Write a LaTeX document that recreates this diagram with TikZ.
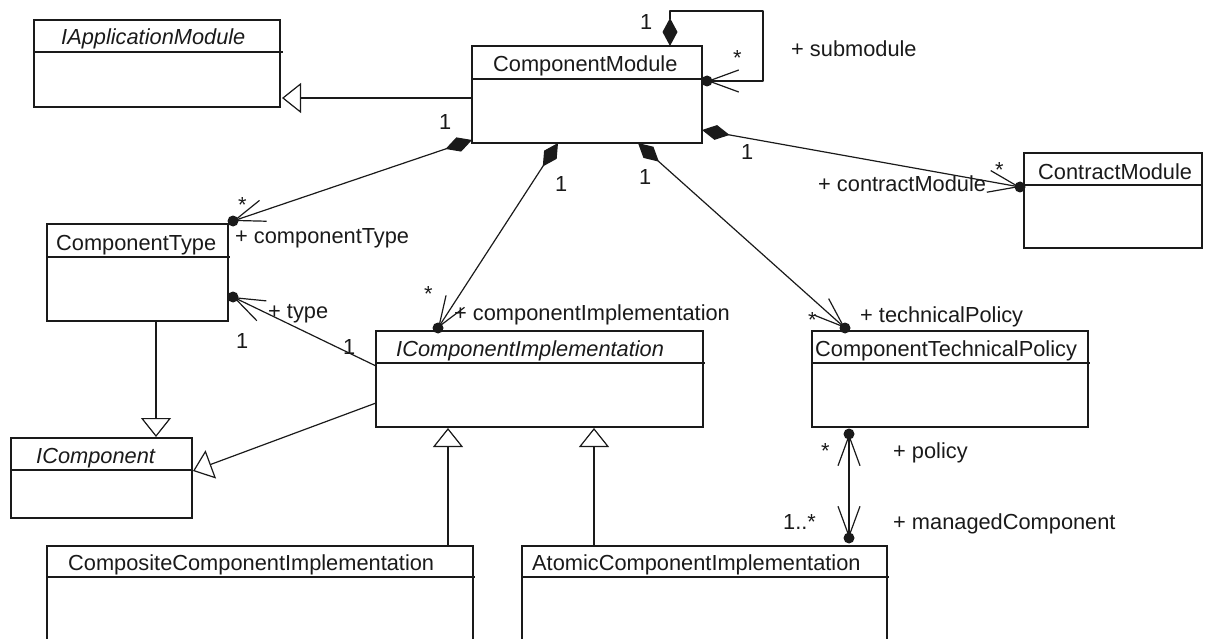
\documentclass[tikz,border=0pt]{standalone}
\usepackage{fontspec}
\setmainfont{Liberation Sans}
\usetikzlibrary{arrows.meta,calc}
\newcommand\umlfont{\fontsize{21.8}{25}\selectfont}
\definecolor{ink}{HTML}{1A1A1A}
\begin{document}
\begin{tikzpicture}[x=1pt,y=-1pt,font=\umlfont,
  cls/.style={draw=ink, line width=1.3pt, anchor=north west, inner sep=0pt, outer sep=0pt},
  ttl/.style={anchor=base west, inner sep=0pt, text=ink},
  lbl/.style={anchor=base west, inner sep=0pt, text=ink},
  divl/.style={draw=ink, line width=1.3pt},
  conn/.style={draw=ink, line width=1.2pt, line join=round},
  own/.style={conn, {Diamond[length=28pt,width=15pt]}-{Straight Barb[length=30pt,width=22pt]}},
  assoc/.style={conn, -{Straight Barb[length=30pt,width=22pt]}},
  biassoc/.style={conn, {Straight Barb[length=30pt,width=22pt]}-{Straight Barb[length=30pt,width=22pt]}},
  gen/.style={conn, -{Triangle[open,length=19pt,width=30pt,fill=white]}},
  enddot/.style={circle, fill=ink, minimum size=11pt, inner sep=0pt, outer sep=0pt}
]
\useasboundingbox (0,0) rectangle (1212,639);
\clip (0,0) rectangle (1212,639);

% classes
\node[cls, minimum width=246pt, minimum height=87pt] (iam) at (34,20) {};
\draw[divl] ($(iam.north west)+(0,32)$) -- ++(249,0);
\node[ttl] (iamt) at (61,45) {\itshape IApplicationModule};

\node[cls, minimum width=230pt, minimum height=97pt] (cm) at (472,46) {};
\draw[divl] ($(cm.north west)+(0,33)$) -- ++(230,0);
\node[ttl] (cmt) at (493,72) {ComponentModule};

\node[cls, minimum width=181pt, minimum height=97pt] (ct) at (47,224) {};
\draw[divl] ($(ct.north west)+(0,33)$) -- ++(183,0);
\node[ttl] (ctt) at (56,250) {ComponentType};

\node[cls, minimum width=178pt, minimum height=95pt] (contract) at (1024,153) {};
\draw[divl] ($(contract.north west)+(0,32)$) -- ++(178,0);
\node[ttl] (contractt) at (1038,179) {ContractModule};

\node[cls, minimum width=327pt, minimum height=96pt] (ici) at (376,331) {};
\draw[divl] ($(ici.north west)+(0,32)$) -- ++(329,0);
\node[ttl] (icit) at (396,356) {\itshape IComponentImplementation};

\node[cls, minimum width=276pt, minimum height=96pt] (ctp) at (812,331) {};
\draw[divl] ($(ctp.north west)+(0,32)$) -- ++(278,0);
\node[ttl] (ctpt) at (815,356) {ComponentTechnicalPolicy};

\node[cls, minimum width=181pt, minimum height=80pt] (ic) at (11,438) {};
\draw[divl] ($(ic.north west)+(0,32)$) -- ++(182,0);
\node[ttl] (ict) at (36,463) {\itshape IComponent};

\node[cls, minimum width=426pt, minimum height=130pt] (comp) at (47,546) {};
\draw[divl] ($(comp.north west)+(0,31)$) -- ++(428,0);
\node[ttl] (compt) at (68,570) {CompositeComponentImplementation};

\node[cls, minimum width=365pt, minimum height=130pt] (atomic) at (522,546) {};
\draw[divl] ($(atomic.north west)+(0,31)$) -- ++(367,0);
\node[ttl] (atomict) at (532,570) {AtomicComponentImplementation};

% generalizations
\draw[gen] ($(cm.north west)+(0,52)$) -- ($(iam.north east)+(2,78)$);
\draw[gen] ($(ct.south west)+(109,0)$) -- ($(ic.north west)+(145,-1)$);
\draw[gen] ($(ici.north west)+(0,72)$) -- ($(ic.north west)+(182,33)$);
\draw[gen] ($(comp.north west)+(401,0)$) -- ($(ici.south west)+(72,1)$);
\draw[gen] ($(atomic.north west)+(72,0)$) -- ($(ici.south west)+(218,1)$);

% compositions
\draw[own] ($(cm.north west)+(198,0)$) |- ($(cm.north east)+(61,-35)$) |- ($(cm.north east)+(5,35)$) node[enddot, pos=1] (d1) {};
\draw[own] ($(cm.south west)+(0,-3)$) -- ($(ct.north east)+(5,-3)$) node[enddot, pos=1] (d2) {};
\draw[own] ($(cm.south west)+(86,0)$) -- ($(ici.north west)+(62,-3)$) node[enddot, pos=1] (d3) {};
\draw[own] ($(cm.south west)+(166,0)$) -- ($(ctp.north west)+(33,-3)$) node[enddot, pos=1] (d4) {};
\draw[own] ($(cm.north east)+(0,84)$) -- ($(contract.north west)+(-4,34)$) node[enddot, pos=1] (d5) {};

% associations
\draw[assoc] ($(ici.north west)+(0,35)$) -- ($(ct.north east)+(5,73)$) node[enddot, pos=1] (d6) {};
\draw[biassoc] ($(ctp.south west)+(37,7)$) -- ($(atomic.north west)+(327,-8)$) node[enddot, pos=0] (d7) {} node[enddot, pos=1] (d8) {};

% labels
\node[lbl] (l1) at (640,30) {1};
\node[lbl] (l2) at (733,66) {*};
\node[lbl] (l3) at (791,57) {+ submodule};
\node[lbl] (l4) at (439,130) {1};
\node[lbl] (l5) at (555,192) {1};
\node[lbl] (l6) at (639,185) {1};
\node[lbl] (l7) at (741,160) {1};
\node[lbl] (l8) at (995,178) {*};
\node[lbl] (l9) at (818,192) {+ contractModule};
\node[lbl] (l10) at (238,212) {*};
\node[lbl] (l11) at (235,243) {+ componentType};
\node[lbl] (l12) at (268,318) {+ type};
\node[lbl] (l13) at (236,348) {1};
\node[lbl] (l14) at (343,354) {1};
\node[lbl] (l15) at (424,301) {*};
\node[lbl] (l16) at (454,320) {+ componentImplementation};
\node[lbl] (l17) at (808,327) {*};
\node[lbl] (l18) at (860,322) {+ technicalPolicy};
\node[lbl] (l19) at (821,458) {*};
\node[lbl] (l20) at (893,458) {+ policy};
\node[lbl] (l21) at (783,529) {1..*};
\node[lbl] (l22) at (893,529) {+ managedComponent};
\end{tikzpicture}
\end{document}
